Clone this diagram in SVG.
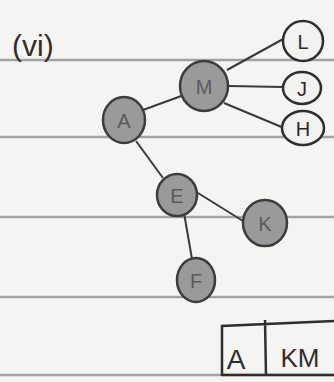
<svg xmlns="http://www.w3.org/2000/svg" width="334" height="382" viewBox="0 0 334 382">
<style>
.rule{stroke:#a3a3a3;stroke-width:2.5}
.edge{stroke:#3a3a3a;stroke-width:2;fill:none}
.shaded{fill:#9a9a9a;stroke:#3c3c3c;stroke-width:2.5}
.open{fill:#f2f2f0;stroke:#2e2e2e;stroke-width:2.5}
.lbl{font-family:"Liberation Sans",Arial,sans-serif;font-size:20px;text-anchor:middle;dominant-baseline:central}
.ls{fill:#5a5a5a}
.lo{fill:#2a2a2a}
.hand{font-family:"Liberation Sans",Arial,sans-serif;fill:#2e2e2e}
</style>
<rect width="334" height="382" fill="#f4f4f2"/>
<g id="ruled-lines">
<line class="rule" x1="0" y1="60" x2="334" y2="60"/>
<line class="rule" x1="0" y1="137" x2="334" y2="137"/>
<line class="rule" x1="0" y1="217" x2="334" y2="217"/>
<line class="rule" x1="0" y1="297" x2="334" y2="297"/>
<line class="rule" x1="0" y1="375" x2="334" y2="375"/>
</g>
<text class="hand" x="12" y="56" font-size="30">(vi)</text>
<g id="connectors">
<line class="edge" x1="143" y1="110" x2="184" y2="95"/>
<line class="edge" x1="227" y1="70" x2="285" y2="38"/>
<line class="edge" x1="229" y1="86" x2="283" y2="87"/>
<line class="edge" x1="224" y1="103" x2="284" y2="128"/>
<line class="edge" x1="136" y1="141" x2="163" y2="178"/>
<line class="edge" x1="198" y1="193" x2="243" y2="221"/>
<line class="edge" x1="184" y1="213" x2="192" y2="259"/>
</g>
<g id="node-M"><ellipse class="shaded" cx="204" cy="86" rx="24" ry="25"/><text class="lbl ls" x="204" y="87">M</text></g>
<g id="node-A"><ellipse class="shaded" cx="124" cy="120" rx="21" ry="23"/><text class="lbl ls" x="124" y="121">A</text></g>
<g id="node-L"><ellipse class="open" cx="303" cy="41" rx="20" ry="20"/><text class="lbl lo" x="303" y="42">L</text></g>
<g id="node-J"><ellipse class="open" cx="302" cy="88" rx="19" ry="16"/><text class="lbl lo" x="302" y="89">J</text></g>
<g id="node-H"><ellipse class="open" cx="303" cy="128" rx="21" ry="17"/><text class="lbl lo" x="303" y="129">H</text></g>
<g id="node-E"><ellipse class="shaded" cx="177" cy="195" rx="20" ry="21"/><text class="lbl ls" x="177" y="196">E</text></g>
<g id="node-K"><ellipse class="shaded" cx="265" cy="223" rx="22" ry="23"/><text class="lbl ls" x="265" y="224">K</text></g>
<g id="node-F"><ellipse class="shaded" cx="196" cy="280" rx="19" ry="22"/><text class="lbl ls" x="196" y="281">F</text></g>
<g id="box">
<path d="M222 376 L222 326 L334 321 M265 320 L266 376 M222 375 L334 375" fill="none" stroke="#2e2e2e" stroke-width="2.5"/>
<text class="hand" x="236" y="369" font-size="28" text-anchor="middle">A</text>
<text class="hand" x="300" y="367" font-size="26" text-anchor="middle">KM</text>
</g>
</svg>
